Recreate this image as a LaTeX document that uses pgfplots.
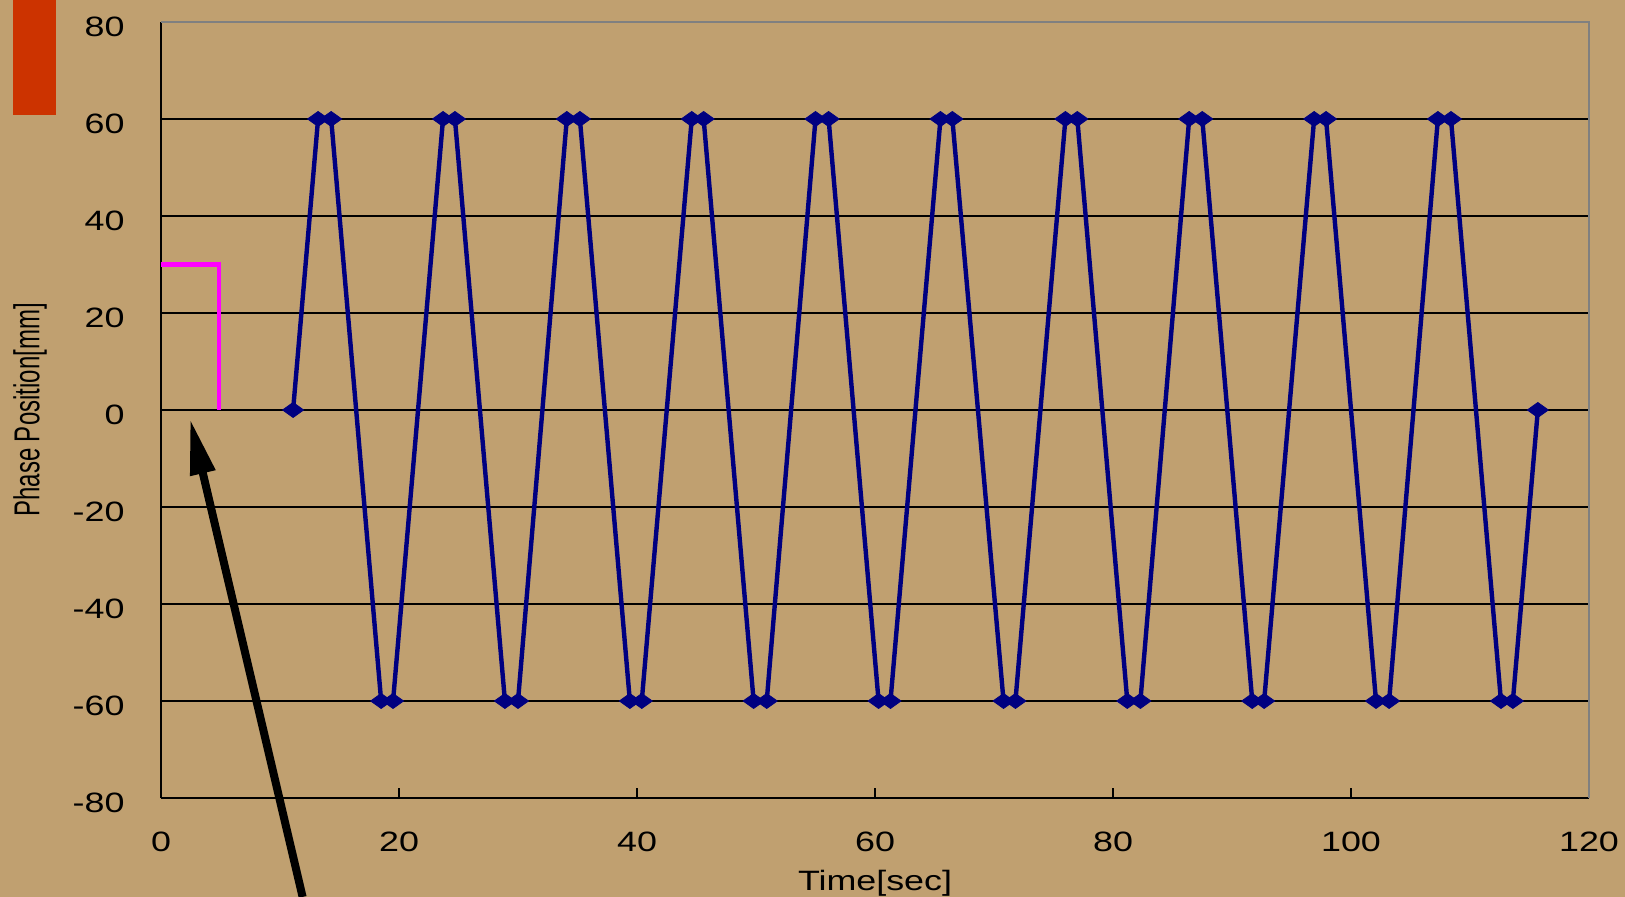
\documentclass[border=0pt]{standalone}
\usepackage{pgfplots}
\pgfplotsset{compat=1.18}
\usepackage{fontspec}
\setmainfont{Liberation Sans}
\usetikzlibrary{arrows.meta}
\definecolor{bg}{HTML}{C0A070}
\definecolor{redbox}{HTML}{CC3300}
\definecolor{navyline}{HTML}{000080}
\definecolor{magline}{HTML}{FF00FF}
\begin{document}
\begin{tikzpicture}[x=1bp,y=1bp]
\fill[bg] (0,0) rectangle (812.5,448.5);
\useasboundingbox (0,0) rectangle (812.5,448.5);
\fill[redbox] (6.5,391) rectangle (28,448.5);
\begin{axis}[
  at={(80.5bp,49.5bp)}, anchor=south west,
  scale only axis, width=714bp, height=388bp,
  xmin=0, xmax=120, ymin=-80, ymax=80,
  xtick={0,20,...,120}, ytick={-80,-60,...,80},
  axis x line*=bottom, axis y line*=left,
  axis line style={black, line width=1bp, -},
  ymajorgrids, grid style={black, line width=0.8bp},
  tick align=inside, major tick length=5bp,
  x tick style={black, line width=0.8bp},
  y tick style={draw=none},
  /pgf/number format/assume math mode=true,
  xticklabel style={font=\fontsize{14bp}{16bp}\selectfont, anchor=north, inner sep=0pt, yshift=-17bp, xscale=1.28},
  yticklabel style={font=\fontsize{14bp}{16bp}\selectfont, anchor=east, inner sep=0pt, xshift=-18bp, yshift=-2.5bp, xscale=1.28},
  xlabel={Time[sec]},
  xlabel style={font=\fontsize{14bp}{16bp}\selectfont, at={(axis description cs:0.5,-0.1186)}, anchor=base, inner sep=0pt, xscale=1.28},
  ylabel={\scalebox{1}[1.5]{Phase Position[mm]}},
  ylabel style={font=\fontsize{12bp}{14bp}\selectfont, at={(axis description cs:-0.0917,0.5)}, anchor=center, inner sep=0pt},
  clip=false,
]
\addplot[magline, line width=2.1bp] coordinates {(0,30) (4.9,30) (4.9,0)};
\addplot[navyline, line width=2.2bp, mark=diamond*, mark size=3.75bp,
  mark options={xscale=1.87, line width=0.4bp, fill=navyline}] coordinates {
(11.1,0)
(13.2,60)(14.3,60)(18.5,-60)(19.5,-60)
(23.7,60)(24.7,60)(28.9,-60)(30.0,-60)
(34.1,60)(35.2,60)(39.4,-60)(40.4,-60)
(44.6,60)(45.6,60)(49.8,-60)(50.9,-60)
(55.0,60)(56.1,60)(60.3,-60)(61.3,-60)
(65.5,60)(66.5,60)(70.8,-60)(71.8,-60)
(76.0,60)(77.0,60)(81.2,-60)(82.3,-60)
(86.4,60)(87.5,60)(91.7,-60)(92.7,-60)
(96.9,60)(97.9,60)(102.1,-60)(103.2,-60)
(107.3,60)(108.4,60)(112.6,-60)(113.6,-60)
(115.7,0)
};
\draw[gray, line width=1bp] (rel axis cs:0,1) -- (rel axis cs:1,1) -- (rel axis cs:1,0);
\draw[black, line width=4bp, -{Triangle[length=28bp,width=12bp]}] (axis cs:11.9,-100.4) -- (axis cs:2.44,-1.8);
\end{axis}
\end{tikzpicture}
\end{document}
